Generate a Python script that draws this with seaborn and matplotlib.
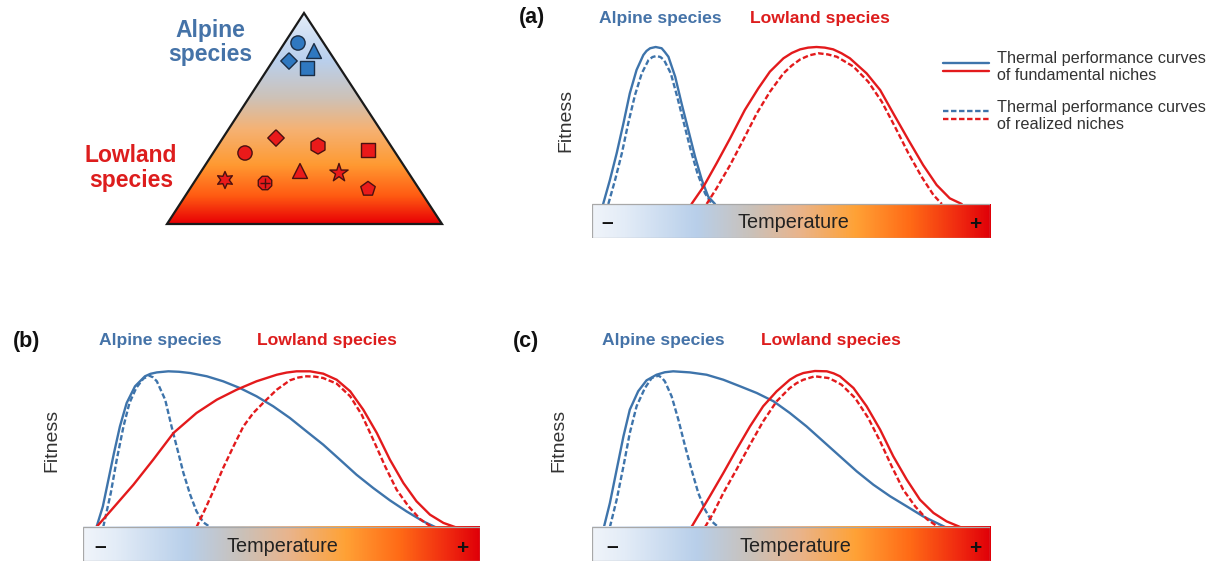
import numpy as np
import pandas as pd
import matplotlib
matplotlib.use("Agg")
import matplotlib.pyplot as plt
import seaborn as sns
from matplotlib.colors import LinearSegmentedColormap
from matplotlib.patches import Polygon, Rectangle

sns.set_theme(style="white")
plt.rcParams['font.family'] = ['Liberation Sans', 'DejaVu Sans']

# ---------------- data (temperature along bar 0-100, fitness 0-1) ----------------
# Panel (a)
a_alp_fund_t = [2.8, 4.5, 6.2, 7.9, 9.5, 11.2, 12.9, 13.7, 14.6, 16.0, 17.5, 18.3, 19.2, 20.9, 22.5, 24.2, 25.9, 27.6, 29.2, 30.9]
a_alp_fund_f = [0, 0.153, 0.323, 0.514, 0.705, 0.854, 0.949, 0.975, 0.992, 1.0, 0.992, 0.968, 0.938, 0.811, 0.641, 0.471, 0.301, 0.153, 0.047, 0]
a_alp_real_t = [4.1, 5.8, 7.5, 9.1, 10.8, 12.5, 14.2, 15.2, 16.2, 17.2, 18.1, 19.8, 21.4, 23.1, 24.8, 26.5, 28.4, 30.1]
a_alp_real_f = [0, 0.153, 0.323, 0.514, 0.694, 0.832, 0.917, 0.936, 0.943, 0.936, 0.917, 0.832, 0.684, 0.514, 0.344, 0.195, 0.068, 0]
a_low_fund_t = [25.0, 28.0, 31.3, 34.7, 38.4, 41.8, 44.7, 48.1, 50.2, 52.3, 54.3, 56.4, 58.5, 60.6, 62.7, 64.8, 69.0, 72.4, 75.7, 79.5, 83.2, 86.6, 89.9, 92.9]
a_low_fund_f = [0, 0.110, 0.259, 0.418, 0.599, 0.737, 0.843, 0.928, 0.962, 0.985, 0.996, 1.0, 0.996, 0.985, 0.960, 0.928, 0.832, 0.726, 0.577, 0.408, 0.248, 0.121, 0.036, 0]
a_low_real_t = [28.8, 31.3, 34.7, 38.0, 41.4, 44.7, 48.1, 50.2, 52.3, 54.6, 56.9, 59.2, 61.5, 65.7, 69.4, 72.8, 76.1, 79.5, 82.8, 85.8, 87.9]
a_low_real_f = [0, 0.100, 0.248, 0.408, 0.577, 0.715, 0.832, 0.882, 0.921, 0.947, 0.960, 0.953, 0.938, 0.875, 0.779, 0.652, 0.493, 0.323, 0.174, 0.057, 0]

# Panel (b)
b_alp_fund_t = [3.4, 5.0, 6.4, 7.8, 9.3, 11.0, 13.1, 15.6, 17.0, 18.6, 21.5, 24.2, 27.0, 31.2, 35.3, 39.5, 43.7, 47.9, 52.1, 56.3, 60.5, 64.7, 68.9, 73.1, 77.3, 81.5, 85.7, 88.7]
b_alp_fund_f = [0, 0.132, 0.303, 0.474, 0.645, 0.795, 0.902, 0.966, 0.982, 0.991, 0.998, 0.995, 0.987, 0.966, 0.934, 0.891, 0.838, 0.774, 0.699, 0.613, 0.528, 0.432, 0.335, 0.250, 0.171, 0.100, 0.036, 0]
b_alp_real_t = [5.1, 7.0, 8.5, 10.2, 11.7, 13.4, 15.2, 16.7, 17.6, 18.6, 20.7, 22.3, 23.8, 25.3, 27.0, 28.6, 30.3, 32.0]
b_alp_real_f = [0, 0.218, 0.432, 0.645, 0.795, 0.891, 0.951, 0.970, 0.960, 0.934, 0.816, 0.645, 0.496, 0.346, 0.207, 0.100, 0.030, 0]
b_low_fund_t = [3.4, 7.6, 12.7, 17.7, 22.8, 28.6, 33.7, 38.7, 43.7, 48.8, 51.3, 53.8, 57.2, 60.5, 63.9, 67.3, 70.6, 74.0, 77.3, 80.7, 84.0, 87.4, 90.8, 93.7]
b_low_fund_f = [0, 0.122, 0.271, 0.432, 0.603, 0.731, 0.816, 0.880, 0.934, 0.976, 0.990, 0.998, 0.998, 0.983, 0.944, 0.870, 0.752, 0.603, 0.432, 0.282, 0.165, 0.079, 0.026, 0]
b_low_real_t = [28.6, 30.7, 32.8, 35.3, 37.9, 40.4, 42.9, 45.8, 48.8, 52.1, 54.2, 56.3, 58.4, 60.5, 63.9, 67.3, 70.2, 73.1, 76.1, 79.0, 82.0, 84.9, 87.8]
b_low_real_f = [0, 0.111, 0.229, 0.378, 0.517, 0.645, 0.731, 0.806, 0.880, 0.940, 0.958, 0.966, 0.964, 0.955, 0.919, 0.838, 0.720, 0.560, 0.389, 0.239, 0.132, 0.051, 0]

# Panel (c)
c_alp_fund_t = [3.0, 4.5, 6.2, 7.9, 9.5, 11.6, 13.7, 16.2, 18.3, 20.4, 24.6, 28.8, 33.0, 37.2, 41.4, 45.6, 49.7, 53.9, 58.1, 62.3, 66.5, 70.7, 74.9, 79.1, 83.2, 86.6, 88.7]
c_alp_fund_f = [0, 0.154, 0.368, 0.581, 0.752, 0.870, 0.940, 0.976, 0.992, 0.998, 0.991, 0.976, 0.944, 0.902, 0.859, 0.806, 0.731, 0.645, 0.549, 0.453, 0.357, 0.271, 0.197, 0.132, 0.068, 0.026, 0]
c_alp_real_t = [4.5, 6.2, 7.9, 9.5, 11.2, 13.3, 15.0, 16.7, 17.5, 18.3, 20.0, 21.7, 23.4, 25.0, 26.7, 28.4, 30.1, 31.7]
c_alp_real_f = [0, 0.175, 0.389, 0.603, 0.774, 0.891, 0.955, 0.970, 0.958, 0.934, 0.838, 0.688, 0.517, 0.368, 0.218, 0.111, 0.036, 0]
c_low_fund_t = [25.0, 27.1, 29.6, 33.0, 36.3, 39.7, 43.0, 46.4, 49.7, 51.4, 53.1, 56.0, 59.0, 60.7, 62.3, 65.7, 69.0, 72.4, 75.7, 79.1, 82.4, 85.8, 89.1, 92.5]
c_low_fund_f = [0, 0.090, 0.197, 0.346, 0.496, 0.645, 0.774, 0.870, 0.944, 0.970, 0.987, 1.0, 0.998, 0.985, 0.966, 0.891, 0.774, 0.624, 0.453, 0.303, 0.175, 0.090, 0.036, 0]
c_low_real_t = [28.4, 30.5, 33.0, 36.3, 39.7, 43.0, 46.4, 49.7, 51.4, 53.1, 56.0, 59.4, 61.0, 62.7, 66.1, 69.4, 72.4, 75.3, 78.2, 81.2, 84.1, 87.0]
c_low_real_f = [0, 0.090, 0.218, 0.368, 0.528, 0.677, 0.806, 0.891, 0.922, 0.944, 0.966, 0.955, 0.936, 0.912, 0.827, 0.699, 0.549, 0.389, 0.239, 0.132, 0.051, 0]

# Triangle (elevation) schematic: species marker positions (pixel units of the picture)
triangle_vertices = [(167, 224), (304, 13), (442, 224)]
alpine_x = [298, 314, 289, 307]
alpine_y = [43, 51, 61, 68]
alpine_markers = ["o", "^", "diamond", "s"]
lowland_x = [276, 245, 318, 368, 300, 339, 225, 265, 368]
lowland_y = [138, 153, 146, 150, 171, 173, 180, 183, 189]
lowland_markers = ["diamond", "o", "h", "s", "^", "*", "star6", "8", "p"]

legend_labels = ["Thermal performance curves\nof fundamental niches",
                 "Thermal performance curves\nof realized niches"]

# ---------------- styling ----------------
W, H, DPI = 1215, 562, 100
BLUE = "#3e74ab"
RED = "#e31a1c"
BLUE_TXT = "#4573a8"
RED_TXT = "#dd1d1d"
MK_BLUE = "#2f78c0"
MK_RED = "#ea1a1a"

DIAMOND = [(0, 1), (1, 0), (0, -1), (-1, 0), (0, 1)]
MARKER_SHAPES = {"o": "o", "^": "^", "s": "s", "h": "h", "*": "*", "8": "8", "p": "p",
                 "diamond": DIAMOND, "star6": (6, 1, 0)}
MARKER_SIZES = {"o": 105, "^": 115, "s": 90, "h": 135, "*": 190, "8": 110, "p": 120,
                "diamond": 140, "star6": 150}

temp_cmap = LinearSegmentedColormap.from_list("temp", [
    (0.0, "#f0f4fa"), (0.08, "#e3ecf7"), (0.26, "#b8cfea"), (0.40, "#cac1b9"),
    (0.52, "#e9b48c"), (0.66, "#ffa236"), (0.80, "#ff6a16"), (0.92, "#f02a10"),
    (1.0, "#e00008")])
tri_cmap = LinearSegmentedColormap.from_list("tri", [
    (0.0, "#e4edf9"), (0.22, "#b9d0ee"), (0.40, "#cdc2b8"), (0.55, "#f5b274"),
    (0.72, "#ff9a32"), (0.87, "#ff5a12"), (1.0, "#e80004")])

fig = plt.figure(figsize=(W / DPI, H / DPI), dpi=DPI)
fig.patch.set_facecolor("white")

canvas = fig.add_axes([0, 0, 1, 1])
canvas.set_zorder(5)
canvas.patch.set_visible(False)
canvas.axis("off")


def panel(x0, x1, bar_top, bar_bot, top, px_unit, curves):
    ax = fig.add_axes([x0 / W, 1 - bar_bot / H, (x1 - x0) / W, (bar_bot - top) / H])
    ax.axis("off")
    ylo = -(bar_bot - bar_top) / px_unit
    yhi = (bar_top - top) / px_unit
    for t, f, col, dashed in curves:
        kw = dict(linestyle=(0, (2.3, 1.1))) if dashed else dict(linestyle="-")
        sns.lineplot(x=t, y=f, ax=ax, color=col, lw=1.7, sort=False,
                     estimator=None, zorder=2, solid_joinstyle="round", **kw)
    grad = temp_cmap(np.linspace(0, 1, 600))[None, :, :]
    ax.imshow(grad, extent=(0, 100, ylo, 0), aspect="auto", zorder=3)
    ax.add_patch(Rectangle((0, ylo), 100, -ylo, fill=False, ec="#a8a8a8", lw=0.9, zorder=4))
    ax.set_xlim(0, 100)
    ax.set_ylim(ylo, yhi)
    return ax


panel(592, 990, 204, 238, 35, 157, [
    (a_alp_fund_t, a_alp_fund_f, BLUE, False), (a_alp_real_t, a_alp_real_f, BLUE, True),
    (a_low_fund_t, a_low_fund_f, RED, False), (a_low_real_t, a_low_real_f, RED, True)])
panel(83, 480, 527, 561, 360, 156, [
    (b_alp_fund_t, b_alp_fund_f, BLUE, False), (b_alp_real_t, b_alp_real_f, BLUE, True),
    (b_low_fund_t, b_low_fund_f, RED, False), (b_low_real_t, b_low_real_f, RED, True)])
panel(592, 990, 527, 561, 360, 156, [
    (c_alp_fund_t, c_alp_fund_f, BLUE, False), (c_alp_real_t, c_alp_real_f, BLUE, True),
    (c_low_fund_t, c_low_fund_f, RED, False), (c_low_real_t, c_low_real_f, RED, True)])

# canvas in picture pixel coordinates (drawn on top)
canvas.set_xlim(0, W)
canvas.set_ylim(H, 0)

# triangle with vertical gradient
tri = Polygon(triangle_vertices, closed=True, fill=False, ec="#1a1a1a", lw=1.6, zorder=3)
tgrad = tri_cmap(np.linspace(0, 1, 400))[:, None, :]
im = canvas.imshow(tgrad, extent=(167, 442, 224, 13), aspect="auto", zorder=1)
clip = Polygon(triangle_vertices, closed=True, transform=canvas.transData)
im.set_clip_path(clip)
canvas.add_patch(tri)


def species_markers(xs, ys, kinds, color, edge):
    df = pd.DataFrame({"x": xs, "y": ys, "m": kinds})
    sns.scatterplot(data=df, x="x", y="y", style="m", size="m",
                    markers={k: MARKER_SHAPES[k] for k in set(kinds)},
                    sizes={k: MARKER_SIZES[k] for k in set(kinds)},
                    color=color, edgecolor=edge, linewidth=1.0, legend=False,
                    ax=canvas, zorder=4)


species_markers(alpine_x, alpine_y, alpine_markers, MK_BLUE, "#1b2d44")
species_markers(lowland_x, lowland_y, lowland_markers, MK_RED, "#4a1010")
i8 = lowland_markers.index("8")
sns.scatterplot(x=[lowland_x[i8]], y=[lowland_y[i8]], marker="+", color="#4a1010",
                s=55, linewidth=1.0, legend=False, ax=canvas, zorder=5)
canvas.set_xlim(0, W)
canvas.set_ylim(H, 0)

canvas.text(210, 30, "Alpine", color=BLUE_TXT, fontsize=16.5, fontweight="bold", ha="center", va="center")
canvas.text(210, 55, "species", color=BLUE_TXT, fontsize=16.5, fontweight="bold", ha="center", va="center")
canvas.text(131, 155, "Lowland", color=RED_TXT, fontsize=16.5, fontweight="bold", ha="center", va="center")
canvas.text(131, 180, "species", color=RED_TXT, fontsize=16.5, fontweight="bold", ha="center", va="center")

# panel labels & headers
for lab, lx, ly, ax_x, lw_x, hy in [("(a)", 532, 18, 660, 820, 18),
                                    ("(b)", 27, 341, 160, 327, 341),
                                    ("(c)", 526, 341, 663, 831, 341)]:
    canvas.text(lx, ly, lab, fontsize=15.5, fontweight="bold", color="#111111", ha="center", va="center")
    canvas.text(ax_x, hy, "Alpine species", fontsize=12.6, fontweight="bold", color=BLUE_TXT, ha="center", va="center")
    canvas.text(lw_x, hy, "Lowland species", fontsize=12.6, fontweight="bold", color=RED_TXT, ha="center", va="center")

# Fitness labels
for fx, fy in [(566, 120), (52, 440), (559, 440)]:
    canvas.text(fx, fy, "Fitness", rotation=90, fontsize=14, color="#333333", ha="center", va="center")

# Temperature bar texts
for cx, cy, mx, px in [(793, 222, 607, 975), (282, 546, 100, 462), (795, 546, 612, 975)]:
    canvas.text(cx, cy, "Temperature", fontsize=14.3, color="#222222", ha="center", va="center")
    canvas.text(mx, cy, "–", fontsize=15, fontweight="bold", color="#111111", ha="center", va="center")
    canvas.text(px, cy + 3, "+", fontsize=15, fontweight="bold", color="#111111", ha="center", va="center")

# legend
canvas.plot([943, 989], [63, 63], color=BLUE, lw=1.7)
canvas.plot([943, 989], [71, 71], color=RED, lw=1.7)
canvas.plot([943, 989], [111, 111], color=BLUE, lw=1.7, linestyle=(0, (2.3, 1.1)))
canvas.plot([943, 989], [119, 119], color=RED, lw=1.7, linestyle=(0, (2.3, 1.1)))
canvas.text(997, 67, legend_labels[0], fontsize=11.7, color="#333333", ha="left", va="center", linespacing=1.1)
canvas.text(997, 116, legend_labels[1], fontsize=11.7, color="#333333", ha="left", va="center", linespacing=1.1)

fig.savefig("out.png", dpi=DPI, facecolor="white")
